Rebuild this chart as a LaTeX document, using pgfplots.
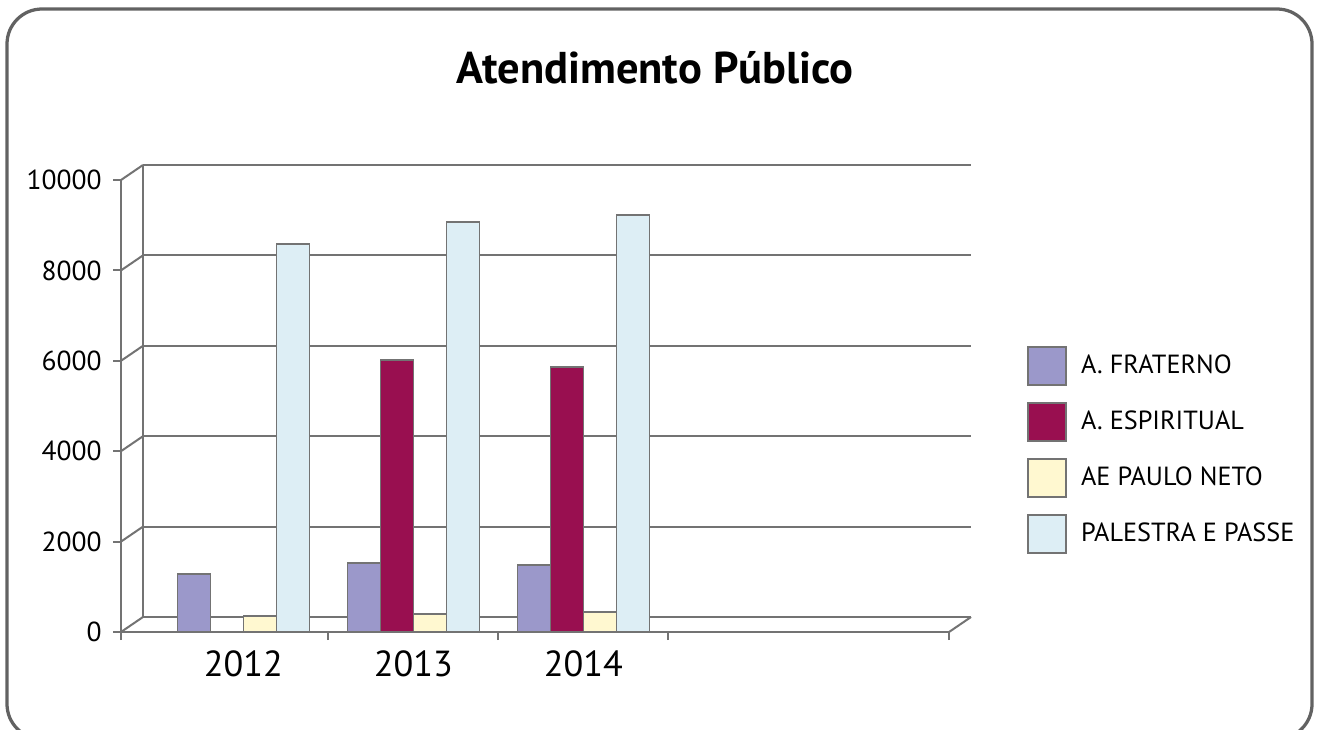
\documentclass[border=0pt]{standalone}
\usepackage{pgfplots}
\pgfplotsset{compat=1.18}
\usepackage{fontspec}
\setmainfont{PT Sans}
\definecolor{cFrat}{RGB}{155,152,202}
\definecolor{cEsp}{RGB}{153,15,80}
\definecolor{cPaulo}{RGB}{255,248,208}
\definecolor{cPal}{RGB}{221,238,245}
\definecolor{cLine}{RGB}{115,115,115}
\pgfplotsset{/pgfplots/ybar legend/.style={/pgfplots/legend image code/.code={\draw[##1,draw=cLine,line width=0.7pt] (0pt,-7.6pt) rectangle (15.2pt,7.6pt);}}}
\pgfplotstableread{
x y
0 1280
1 1530
2 1490
}\tFrat
\pgfplotstableread{
x y
1 6020
2 5860
}\tEsp
\pgfplotstableread{
x y
0 350
1 400
2 440
}\tPaulo
\pgfplotstableread{
x y
0 8580
1 9070
2 9230
}\tPal
\begin{document}
\begin{tikzpicture}[x=0.4pt,y=0.4pt]
\draw[cLine!85!black, line width=1.3pt, rounded corners=14pt] (7,720) rectangle (1312,-10);
\node[anchor=base, font=\bfseries\fontsize{17.8}{20}\selectfont] at (655,646) {Atendimento Público};
\begin{axis}[
  at={(48.4pt,38.8pt)}, anchor=south west,
  scale only axis, width=331.2pt, height=180.8pt,
  set layers,
  xmin=-0.72, xmax=4.15, ymin=0, ymax=10000,
  axis x line*=bottom, axis y line*=left,
  axis line style={draw=cLine, line width=0.8pt},
  tick style={draw=cLine, line width=0.8pt},
  tick align=outside,
  major tick length=3.2pt,
  xtick={-0.72,0.5,1.5,2.5,4.15}, xticklabels={},
  extra x ticks={0,1,2}, extra x tick labels={2012,2013,2014},
  extra x tick style={major tick length=0pt},
  ytick={0,2000,4000,6000,8000,10000},
  scaled y ticks=false,
  /pgf/number format/assume math mode=true,
  y tick label style={/pgf/number format/1000 sep={}, font=\fontsize{11}{13}\selectfont, xshift=-1pt},
  x tick label style={font=\fontsize{14.5}{17}\selectfont, yshift=-4pt},
  ybar=0pt, bar width=13.2pt,
  legend style={at={(1.094,0.633)}, anchor=north west, draw=none, fill=none,
    font=\fontsize{10.5}{12}\selectfont, row sep=6.5pt, inner sep=0pt,
    nodes={inner sep=0pt, anchor=west}, column sep=5.6pt},
  legend cell align=left,
]
\begin{pgfonlayer}{axis background}
\pgfplotsinvokeforeach{0,2000,4000,6000,8000,10000}{
  \draw[cLine, line width=0.8pt] ([xshift=8.8pt,yshift=6pt]axis cs:-0.72,#1) -- ([xshift=8.8pt,yshift=6pt]axis cs:4.15,#1);
  \draw[cLine, line width=0.8pt] (axis cs:-0.72,#1) -- ([xshift=8.8pt,yshift=6pt]axis cs:-0.72,#1);
}
\draw[cLine, line width=0.8pt] ([xshift=8.8pt,yshift=6pt]axis cs:-0.72,0) -- ([xshift=8.8pt,yshift=6pt]axis cs:-0.72,10000);
\draw[cLine, line width=0.8pt] (axis cs:4.15,0) -- ([xshift=8.8pt,yshift=6pt]axis cs:4.15,0);
\end{pgfonlayer}
\addplot[fill=cFrat, draw=cLine, line width=0.7pt] table {\tFrat};
\addplot[fill=cEsp, draw=cLine, line width=0.7pt] table {\tEsp};
\addplot[fill=cPaulo, draw=cLine, line width=0.7pt] table {\tPaulo};
\addplot[fill=cPal, draw=cLine, line width=0.7pt] table {\tPal};
\legend{A. FRATERNO, A. ESPIRITUAL, AE PAULO NETO, PALESTRA E PASSE}
\end{axis}
\pgfresetboundingbox
\path[use as bounding box] (0,0) rectangle (1317,729);
\end{tikzpicture}
\end{document}
